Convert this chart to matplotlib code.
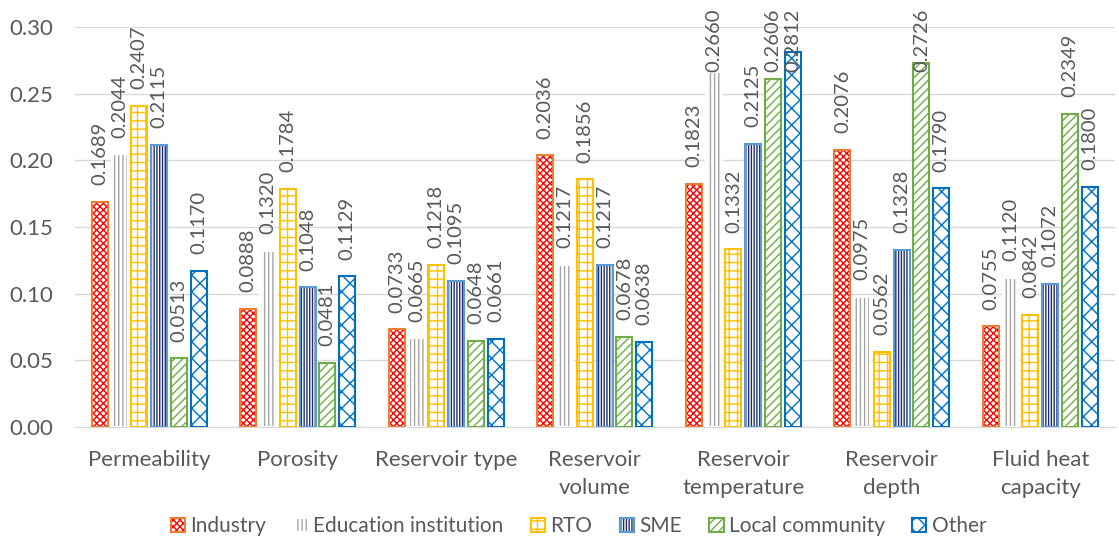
import matplotlib.pyplot as plt
import numpy as np

plt.rcParams['font.family'] = ['Lato', 'DejaVu Sans']
plt.rcParams['hatch.linewidth'] = 1.0

categories = ['Permeability', 'Porosity', 'Reservoir type', 'Reservoir\nvolume',
              'Reservoir\ntemperature', 'Reservoir\ndepth', 'Fluid heat\ncapacity']
industry = [0.1689, 0.0888, 0.0733, 0.2036, 0.1823, 0.2076, 0.0755]
education = [0.2044, 0.1320, 0.0665, 0.1217, 0.2660, 0.0975, 0.1120]
rto = [0.2407, 0.1784, 0.1218, 0.1856, 0.1332, 0.0562, 0.0842]
sme = [0.2115, 0.1048, 0.1095, 0.1217, 0.2125, 0.1328, 0.1072]
local = [0.0513, 0.0481, 0.0648, 0.0678, 0.2606, 0.2726, 0.2349]
other = [0.1170, 0.1129, 0.0661, 0.0638, 0.2812, 0.1790, 0.1800]

series = [
    ('Industry', industry, '#FF0000', 'xxxxx', '#ED7D31'),
    ('Education institution', education, '#A5A5A5', '||||', '#FFFFFF'),
    ('RTO', rto, '#FFC000', '++', '#FFC000'),
    ('SME', sme, '#1F2E6B', '||||||', '#5B9BD5'),
    ('Local community', local, '#70AD47', '////', '#70AD47'),
    ('Other', other, '#0070C0', 'xx', '#0070C0'),
]

fig = plt.figure(figsize=(11.19, 5.39), dpi=100)
ax = fig.add_axes([0.067, 0.208, 0.929, 0.742])

x = np.arange(len(categories))
slot = 0.133
width = 0.108
label_gap = 0.0125
label_max = 0.266  # labels near the top get pushed down so they stay inside the figure
handles = []
for i, (name, vals, hcol, hatch, ecol) in enumerate(series):
    pos = x + (i - 2.5) * slot
    fill = ax.bar(pos, vals, width, color='white', edgecolor=hcol, hatch=hatch,
                  linewidth=0, zorder=2)
    edge = ax.bar(pos, vals, width, fill=False, edgecolor=ecol, linewidth=1.5, zorder=3)
    handles.append((fill, edge))
    for p, v in zip(pos, vals):
        ax.text(p, min(v + label_gap, label_max), f'{v:.4f}', rotation=90,
                ha='center', va='bottom', fontsize=14.5, color='#595959',
                zorder=4, clip_on=False)

ax.set_xlim(-0.5, len(categories) - 0.5)
ax.set_ylim(0, 0.30)
ax.set_yticks(np.arange(0, 0.301, 0.05))
ax.set_yticklabels([f'{t:.2f}' for t in np.arange(0, 0.301, 0.05)])
ax.set_xticks(x)
ax.set_xticklabels(categories, linespacing=1.45)
ax.tick_params(axis='both', length=0, labelsize=16, colors='#595959')
ax.tick_params(axis='y', pad=16)
ax.tick_params(axis='x', pad=17)
ax.grid(axis='y', color='#D9D9D9', linewidth=1, zorder=0)
ax.set_axisbelow(True)
for s in ['top', 'right', 'left']:
    ax.spines[s].set_visible(False)
ax.spines['bottom'].set_color('#D9D9D9')

fig.legend(handles=handles, labels=[s[0] for s in series], loc='lower center',
           bbox_to_anchor=(0.517, -0.03), ncol=6, frameon=False, fontsize=15,
           labelcolor='#595959', handlelength=0.7, handleheight=0.7,
           handletextpad=0.25, columnspacing=1.3)

fig.savefig('out.png', dpi=100)
